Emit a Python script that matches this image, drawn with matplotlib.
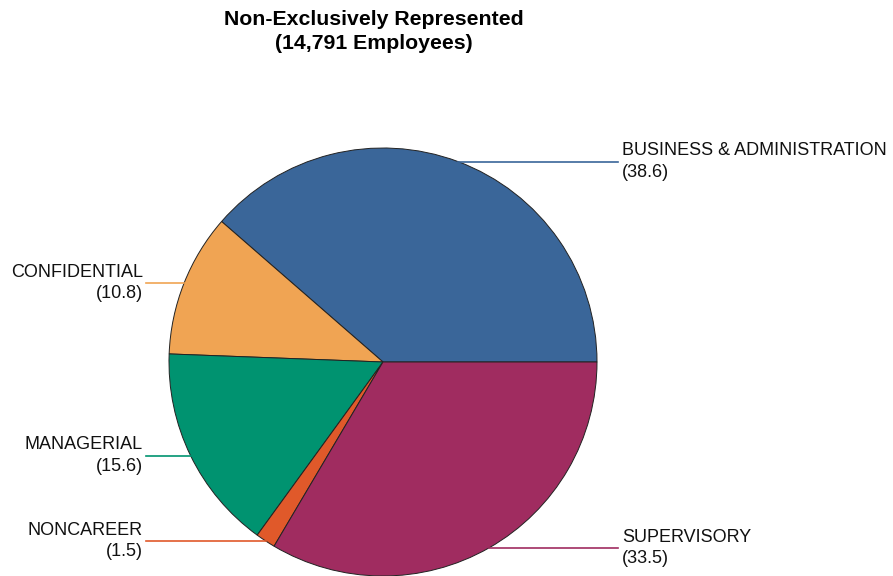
import numpy as np
import matplotlib
matplotlib.use("Agg")
import matplotlib.pyplot as plt

plt.rcParams['font.family'] = ['Liberation Sans', 'DejaVu Sans']

# data
categories = ["BUSINESS & ADMINISTRATION", "CONFIDENTIAL", "MANAGERIAL", "NONCAREER", "SUPERVISORY"]
shares = [38.6, 10.8, 15.6, 1.5, 33.5]
colors = ["#3a6699", "#f0a453", "#009370", "#e0592a", "#a02c60"]
title = "Non-Exclusively Represented\n(14,791 Employees)"

fig = plt.figure(figsize=(8.93, 5.76), dpi=100)
ax = fig.add_axes([0, 0, 1, 1])

cx, cy, r = 383, 214, 214
wedges, _ = ax.pie(shares, colors=colors, startangle=0, counterclock=True,
                   center=(cx, cy), radius=r, frame=True,
                   wedgeprops=dict(edgecolor="#222222", linewidth=0.7))
ax.set_xlim(0, 893)
ax.set_ylim(0, 576)
ax.set_aspect('equal')
ax.axis('off')

# leader lines and labels
total = sum(shares)
start = 0.0
for name, val, col in zip(categories, shares, colors):
    mid = np.deg2rad(start + val / total * 360 / 2)
    start += val / total * 360
    px = cx + r * np.cos(mid)
    py = cy + r * np.sin(mid)
    if np.cos(mid) >= 0:
        lx = 618
        ax.plot([px, lx], [py, py], color=col, linewidth=1.2, clip_on=False)
        ax.text(lx + 4, py, "%s\n(%.1f)" % (name, val), ha='left', va='center',
                fontsize=13, color="#111111", linespacing=1.35)
    else:
        lx = 146
        ax.plot([lx, px], [py, py], color=col, linewidth=1.2, clip_on=False)
        ax.text(lx - 3, py, "%s\n(%.1f)" % (name, val), ha='right', va='center',
                fontsize=13, color="#111111", linespacing=1.35, multialignment='right')

fig.text(374 / 893, 1 - 31.5 / 576, title, ha='center', va='center',
         fontsize=15.3, fontweight='bold', linespacing=1.35)

fig.savefig("out.png", dpi=100)
